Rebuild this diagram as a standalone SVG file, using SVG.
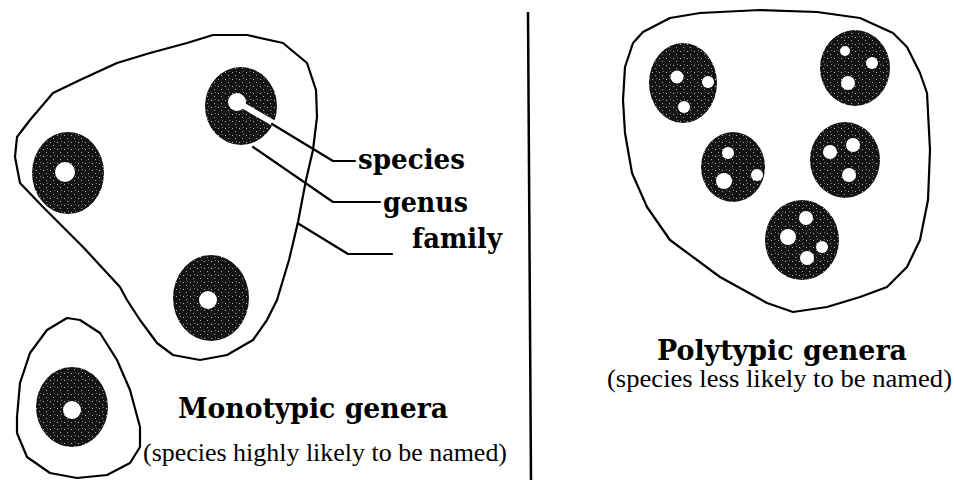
<svg xmlns="http://www.w3.org/2000/svg" width="954" height="480" viewBox="0 0 954 480">
  <defs>
    <pattern id="stip" width="7" height="7" patternUnits="userSpaceOnUse">
      <rect width="7" height="7" fill="#141414"/>
      <rect x="1" y="2" width="1" height="1" fill="#fff" opacity="0.7"/>
      <rect x="4" y="5" width="1" height="1" fill="#fff" opacity="0.6"/>
      <rect x="5" y="1" width="1" height="1" fill="#fff" opacity="0.4"/>
    </pattern>
  </defs>
  <style>
    .outline { fill: none; stroke: #000; stroke-width: 2.2; stroke-linejoin: round; stroke-linecap: round; }
    .disc { fill: url(#stip); }
    .hole { fill: #fff; }
    .lead { fill: none; stroke: #000; stroke-width: 2.2; stroke-linejoin: round; stroke-linecap: round; }
    .lbl { font-family: "DejaVu Serif", "Liberation Serif", serif; font-weight: bold; font-size: 27px; fill: #000; }
    .title { font-family: "DejaVu Serif", "Liberation Serif", serif; font-weight: bold; font-size: 27px; fill: #000; }
    .sub { font-family: "Liberation Serif", "Times New Roman", serif; font-size: 26px; fill: #000; }
  </style>
  <rect width="954" height="480" fill="#fff"/>

  <!-- divider -->
  <line x1="528" y1="12" x2="531" y2="480" stroke="#000" stroke-width="2.5"/>

  <!-- Left: family containing three monotypic genera -->
  <g id="family-left">
    <path class="outline" d="M213,35 L247,35 L283,43 L307,63 L316,90 L317,117 L313,150 L306,180 L298,222 L289,260 L277,300 L267,320 L253,340 L227,355 L200,360 L173,355 L157,343 L140,320 L127,300 L120,287 L83,247 L43,207 L20,183 L15,157 L17,137 L30,120 L53,93 L80,80 L117,63 L150,53 L187,43 Z"/>
  </g>
  <g id="genus-top">
    <ellipse class="disc" cx="241" cy="106" rx="36" ry="39"/>
    <circle class="hole" cx="237" cy="102" r="9"/>
    <line x1="237" y1="102" x2="275" y2="124" stroke="#fff" stroke-width="6"/>
  </g>
  <g id="genus-left">
    <ellipse class="disc" cx="68" cy="173" rx="36" ry="41"/>
    <circle class="hole" cx="65" cy="172" r="10"/>
  </g>
  <g id="genus-bottom">
    <ellipse class="disc" cx="211" cy="298" rx="38" ry="43"/>
    <circle class="hole" cx="208" cy="300" r="9"/>
  </g>

  <!-- Left: lone monotypic family -->
  <g id="family-small">
    <path class="outline" d="M67,318 L80,320 L100,333 L117,360 L130,390 L140,427 L140,447 L130,463 L107,475 L77,478 L50,473 L27,457 L17,433 L17,417 L20,383 L30,353 L47,330 Z"/>
  </g>
  <g id="genus-small">
    <ellipse class="disc" cx="72" cy="407" rx="36" ry="40"/>
    <circle class="hole" cx="72" cy="410" r="9"/>
  </g>

  <!-- Leader lines -->
  <g id="connectors">
    <path class="lead" d="M272,124 L333,161 L355,161"/>
    <path class="lead" d="M253,147 L333,202 L380,202"/>
    <path class="lead" d="M299,224 L348,254 L392,254"/>
  </g>

  <!-- Leader labels -->
  <g id="labels">
    <text class="lbl" x="358" y="169" textLength="107" lengthAdjust="spacingAndGlyphs">species</text>
    <text class="lbl" x="383" y="212" textLength="85" lengthAdjust="spacingAndGlyphs">genus</text>
    <text class="lbl" x="412" y="248" textLength="90" lengthAdjust="spacingAndGlyphs">family</text>
  </g>

  <g id="caption-left">
    <text class="title" x="178" y="418" textLength="270" lengthAdjust="spacingAndGlyphs">Monotypic genera</text>
    <text class="sub" x="143" y="461" textLength="364" lengthAdjust="spacingAndGlyphs">(species highly likely to be named)</text>
  </g>

  <!-- Right: family of polytypic genera -->
  <g id="family-right">
    <path class="outline" d="M633,43 L643,32 L670,18 L700,13 L760,10 L817,12 L860,18 L893,33 L907,47 L920,73 L927,93 L930,150 L928,200 L920,240 L907,267 L887,287 L860,297 L827,307 L793,312 L767,303 L720,277 L670,240 L647,207 L632,173 L625,133 L623,100 L625,67 Z"/>
  </g>
  <g id="poly-1">
    <ellipse class="disc" cx="683" cy="83" rx="34" ry="40"/>
    <circle class="hole" cx="677" cy="77" r="6.5"/>
    <circle class="hole" cx="708" cy="82" r="6"/>
    <circle class="hole" cx="684" cy="107" r="6"/>
  </g>
  <g id="poly-2">
    <ellipse class="disc" cx="855" cy="68" rx="35" ry="38"/>
    <circle class="hole" cx="845" cy="51" r="5"/>
    <circle class="hole" cx="872" cy="63" r="6"/>
    <circle class="hole" cx="848" cy="83" r="7"/>
  </g>
  <g id="poly-3">
    <ellipse class="disc" cx="733" cy="167" rx="32" ry="35"/>
    <circle class="hole" cx="728" cy="153" r="6"/>
    <circle class="hole" cx="757" cy="175" r="6"/>
    <circle class="hole" cx="724" cy="181" r="8"/>
  </g>
  <g id="poly-4">
    <ellipse class="disc" cx="845" cy="160" rx="35" ry="38"/>
    <circle class="hole" cx="830" cy="152" r="7"/>
    <circle class="hole" cx="853" cy="145" r="7"/>
    <circle class="hole" cx="849" cy="175" r="7"/>
  </g>
  <g id="poly-5">
    <ellipse class="disc" cx="802" cy="240" rx="37" ry="40"/>
    <circle class="hole" cx="806" cy="218" r="7"/>
    <circle class="hole" cx="788" cy="237" r="8"/>
    <circle class="hole" cx="822" cy="247" r="6"/>
    <circle class="hole" cx="807" cy="258" r="7"/>
  </g>

  <g id="caption-right">
    <text class="title" x="657" y="360" textLength="250" lengthAdjust="spacingAndGlyphs">Polytypic genera</text>
    <text class="sub" x="607" y="387" textLength="345" lengthAdjust="spacingAndGlyphs">(species less likely to be named)</text>
  </g>
</svg>
